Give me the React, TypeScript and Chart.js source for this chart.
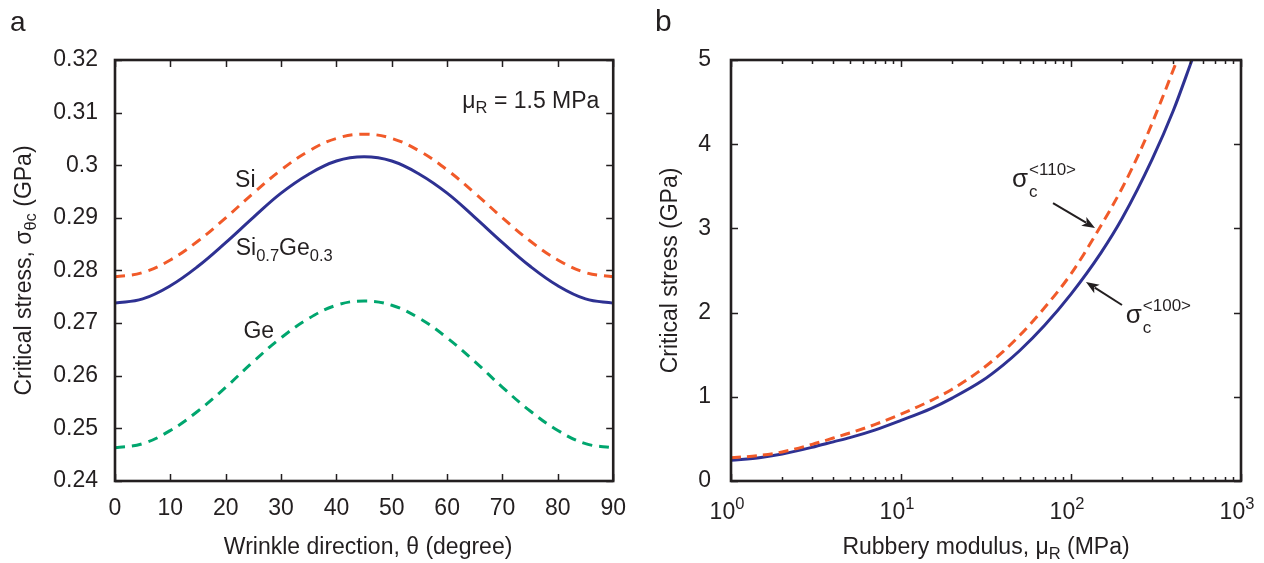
import React, { useEffect, useRef } from 'react';
import { Chart, registerables } from 'chart.js';

Chart.register(...registerables);

const FONT = '"Liberation Sans", Arial, Helvetica, sans-serif';
const TEXT = '#231f20';
const BLUE = '#2e3192';
const ORANGE = '#f15a29';
const GREEN = '#00a66e';

// Panel a: critical stress vs wrinkle direction (mu_R = 1.5 MPa)
const thetaDeg = [0, 5, 10, 15, 20, 25, 30, 35, 40, 45, 50, 55, 60, 65, 70, 75, 80, 85, 90];
const siStress = [0.2788, 0.2796, 0.2820, 0.2856, 0.2900, 0.2947, 0.2991, 0.3027, 0.3051, 0.3059, 0.3051, 0.3027, 0.2991, 0.2947, 0.2900, 0.2856, 0.2820, 0.2796, 0.2788];
const siGeStress = [0.2738, 0.2746, 0.2771, 0.2808, 0.2853, 0.2901, 0.2947, 0.2983, 0.3008, 0.3016, 0.3008, 0.2983, 0.2947, 0.2901, 0.2853, 0.2808, 0.2771, 0.2746, 0.2738];
const geStress = [0.2463, 0.2471, 0.2496, 0.2533, 0.2578, 0.2627, 0.2672, 0.2709, 0.2734, 0.2742, 0.2734, 0.2709, 0.2672, 0.2627, 0.2578, 0.2533, 0.2496, 0.2471, 0.2463];
const thetaTicks = [0, 10, 20, 30, 40, 50, 60, 70, 80, 90];
const stressTicksA = [0.24, 0.25, 0.26, 0.27, 0.28, 0.29, 0.3, 0.31, 0.32];

// Panel b: critical stress vs rubbery modulus
const modulus100 = [1, 1.5, 2, 3, 4, 5, 7, 10, 15, 20, 30, 40, 50, 70, 100, 150, 200, 300, 400, 515];
const sigma100 = [0.245, 0.28, 0.32, 0.40, 0.465, 0.515, 0.605, 0.72, 0.86, 0.985, 1.19, 1.38, 1.55, 1.85, 2.22, 2.71, 3.12, 3.82, 4.40, 5.0];
const modulus110 = [1, 1.5, 2, 3, 4, 5, 7, 10, 15, 20, 30, 40, 50, 70, 100, 140, 200, 262, 340, 421];
const sigma110 = [0.275, 0.305, 0.345, 0.435, 0.51, 0.57, 0.67, 0.795, 0.955, 1.09, 1.33, 1.54, 1.73, 2.06, 2.46, 2.93, 3.48, 3.97, 4.52, 5.0];
const modulusDecades = [1, 10, 100, 1000];
const decadeExponents = ['0', '1', '2', '3'];
const modulusMinor = [2, 3, 4, 5, 6, 7, 8, 9, 20, 30, 40, 50, 60, 70, 80, 90, 200, 300, 400, 500, 600, 700, 800, 900];
const stressTicksB = [0, 1, 2, 3, 4, 5];

const f = (size: number) => `${size}px ${FONT}`;
const FS = 23;
const SUB = 16.5;

type Run = { t: string; size: number; dy?: number };

function drawRich(ctx: CanvasRenderingContext2D, runs: Run[], x: number, y: number, align: 'left' | 'center' | 'right') {
  let w = 0;
  for (const r of runs) {
    ctx.font = f(r.size);
    w += ctx.measureText(r.t).width;
  }
  let cx = align === 'left' ? x : align === 'right' ? x - w : x - w / 2;
  ctx.textAlign = 'left';
  ctx.textBaseline = 'alphabetic';
  for (const r of runs) {
    ctx.font = f(r.size);
    ctx.fillText(r.t, cx, y + (r.dy || 0));
    cx += ctx.measureText(r.t).width;
  }
}

function drawSigma(ctx: CanvasRenderingContext2D, x: number, y: number, sub: string, sup: string) {
  ctx.textAlign = 'left';
  ctx.textBaseline = 'alphabetic';
  ctx.font = f(26);
  ctx.fillText('σ', x, y);
  const w = ctx.measureText('σ').width;
  ctx.font = f(17);
  ctx.fillText(sub, x + w + 1, y + 10);
  ctx.fillText(sup, x + w + 1, y - 12);
}

function drawArrow(ctx: CanvasRenderingContext2D, x1: number, y1: number, x2: number, y2: number) {
  const ang = Math.atan2(y2 - y1, x2 - x1);
  const hl = 13;
  const hw = 5;
  ctx.save();
  ctx.strokeStyle = TEXT;
  ctx.fillStyle = TEXT;
  ctx.lineWidth = 2;
  ctx.beginPath();
  ctx.moveTo(x1, y1);
  ctx.lineTo(x2 - Math.cos(ang) * hl * 0.8, y2 - Math.sin(ang) * hl * 0.8);
  ctx.stroke();
  ctx.beginPath();
  ctx.moveTo(x2, y2);
  ctx.lineTo(x2 - Math.cos(ang) * hl + Math.sin(ang) * hw, y2 - Math.sin(ang) * hl - Math.cos(ang) * hw);
  ctx.lineTo(x2 - Math.cos(ang) * hl * 0.75, y2 - Math.sin(ang) * hl * 0.75);
  ctx.lineTo(x2 - Math.cos(ang) * hl - Math.sin(ang) * hw, y2 - Math.sin(ang) * hl + Math.cos(ang) * hw);
  ctx.closePath();
  ctx.fill();
  ctx.restore();
}

type FrameCfg = { xMajor: number[]; xMinor: number[]; yMajor: number[] };

function makeFrame(cfg: FrameCfg) {
  return {
    id: 'frame',
    afterDatasetsDraw(chart: any) {
      const { ctx, chartArea: a, scales } = chart;
      const xs = scales.x;
      const ys = scales.y;
      ctx.save();
      ctx.strokeStyle = TEXT;
      ctx.lineWidth = 1.5;
      ctx.beginPath();
      for (const v of cfg.xMajor) {
        const px = Math.round(xs.getPixelForValue(v)) + 0.5;
        ctx.moveTo(px, a.bottom); ctx.lineTo(px, a.bottom - 7);
        ctx.moveTo(px, a.top); ctx.lineTo(px, a.top + 7);
      }
      for (const v of cfg.xMinor) {
        const px = Math.round(xs.getPixelForValue(v)) + 0.5;
        ctx.moveTo(px, a.bottom); ctx.lineTo(px, a.bottom - 4);
        ctx.moveTo(px, a.top); ctx.lineTo(px, a.top + 4);
      }
      for (const v of cfg.yMajor) {
        const py = Math.round(ys.getPixelForValue(v)) + 0.5;
        ctx.moveTo(a.left, py); ctx.lineTo(a.left + 7, py);
        ctx.moveTo(a.right, py); ctx.lineTo(a.right - 7, py);
      }
      ctx.stroke();
      ctx.lineWidth = 2.6;
      ctx.strokeRect(a.left, a.top, a.right - a.left, a.bottom - a.top);
      ctx.restore();
    },
  };
}

function makeNotes(draw: (chart: any) => void) {
  return {
    id: 'notes',
    afterDraw(chart: any) {
      const ctx = chart.ctx;
      ctx.save();
      ctx.fillStyle = TEXT;
      draw(chart);
      ctx.restore();
    },
  };
}

const tickFont = { family: FONT, size: FS };

export default function App() {
  const refA = useRef<HTMLCanvasElement>(null);
  const refB = useRef<HTMLCanvasElement>(null);

  useEffect(() => {
    const chartA = new Chart(refA.current!, {
      type: 'line',
      data: {
        datasets: [
          { data: thetaDeg.map((t, i) => ({ x: t, y: siStress[i] })), borderColor: ORANGE, borderDash: [10, 7], borderWidth: 3, pointRadius: 0, tension: 0.4, fill: false },
          { data: thetaDeg.map((t, i) => ({ x: t, y: siGeStress[i] })), borderColor: BLUE, borderWidth: 3, pointRadius: 0, tension: 0.4, fill: false },
          { data: thetaDeg.map((t, i) => ({ x: t, y: geStress[i] })), borderColor: GREEN, borderDash: [10, 7], borderWidth: 3, pointRadius: 0, tension: 0.4, fill: false },
        ],
      } as any,
      options: {
        animation: false,
        responsive: false,
        events: [],
        layout: { padding: { top: 60, right: 14, left: 0, bottom: 0 } },
        plugins: { legend: { display: false }, tooltip: { enabled: false } },
        scales: {
          x: {
            type: 'linear', min: 0, max: 90,
            afterBuildTicks: (s: any) => { s.ticks = thetaTicks.map((v) => ({ value: v })); },
            ticks: { font: tickFont, color: TEXT, padding: 14, maxRotation: 0, autoSkip: false },
            grid: { display: false, drawTicks: false },
            border: { display: false },
            afterFit: (s: any) => { s.height = 82; },
          },
          y: {
            type: 'linear', min: 0.24, max: 0.32,
            afterBuildTicks: (s: any) => { s.ticks = stressTicksA.map((v) => ({ value: v })); },
            ticks: { font: tickFont, color: TEXT, padding: 17, autoSkip: false, callback: (v: any) => String(Number(Number(v).toFixed(2))) },
            grid: { display: false, drawTicks: false },
            border: { display: false },
            afterFit: (s: any) => { s.width = 115; },
          },
        },
      } as any,
      plugins: [
        makeFrame({ xMajor: thetaTicks, xMinor: [], yMajor: stressTicksA }),
        makeNotes((chart) => {
          const { ctx, scales: { x, y } } = chart;
          ctx.font = f(28);
          ctx.textAlign = 'left';
          ctx.textBaseline = 'alphabetic';
          ctx.fillText('a', 10, 31);
          drawRich(ctx, [{ t: 'μ', size: FS }, { t: 'R', size: SUB, dy: 5 }, { t: ' = 1.5 MPa', size: FS }], x.getPixelForValue(87.5), y.getPixelForValue(0.3109), 'right');
          drawRich(ctx, [{ t: 'Si', size: FS }], x.getPixelForValue(21.7), y.getPixelForValue(0.2959), 'left');
          drawRich(ctx, [{ t: 'Si', size: FS }, { t: '0.7', size: SUB, dy: 6 }, { t: 'Ge', size: FS }, { t: '0.3', size: SUB, dy: 6 }], x.getPixelForValue(21.8), y.getPixelForValue(0.2829), 'left');
          drawRich(ctx, [{ t: 'Ge', size: FS }], x.getPixelForValue(23.2), y.getPixelForValue(0.2672), 'left');
          // axis titles
          drawRich(ctx, [{ t: 'Wrinkle direction, θ (degree)', size: FS }], (chart.chartArea.left + chart.chartArea.right) / 2 + 4, 554, 'center');
          ctx.save();
          ctx.translate(31, (chart.chartArea.top + chart.chartArea.bottom) / 2);
          ctx.rotate(-Math.PI / 2);
          drawRich(ctx, [{ t: 'Critical stress, σ', size: FS }, { t: 'θc', size: SUB, dy: 5 }, { t: ' (GPa)', size: FS }], 0, 0, 'center');
          ctx.restore();
        }),
      ],
    });

    const chartB = new Chart(refB.current!, {
      type: 'line',
      data: {
        datasets: [
          { data: modulus110.map((m, i) => ({ x: m, y: sigma110[i] })), borderColor: ORANGE, borderDash: [10, 6], borderWidth: 3, pointRadius: 0, cubicInterpolationMode: 'monotone', fill: false },
          { data: modulus100.map((m, i) => ({ x: m, y: sigma100[i] })), borderColor: BLUE, borderWidth: 3, pointRadius: 0, cubicInterpolationMode: 'monotone', fill: false },
        ],
      } as any,
      options: {
        animation: false,
        responsive: false,
        events: [],
        layout: { padding: { top: 60, right: 23, left: 0, bottom: 0 } },
        plugins: { legend: { display: false }, tooltip: { enabled: false } },
        scales: {
          x: {
            type: 'logarithmic', min: 1, max: 1000,
            ticks: { display: false },
            grid: { display: false, drawTicks: false },
            border: { display: false },
            afterFit: (s: any) => { s.height = 82; },
          },
          y: {
            type: 'linear', min: 0, max: 5,
            afterBuildTicks: (s: any) => { s.ticks = stressTicksB.map((v) => ({ value: v })); },
            ticks: { font: tickFont, color: TEXT, padding: 20, autoSkip: false },
            grid: { display: false, drawTicks: false },
            border: { display: false },
            afterFit: (s: any) => { s.width = 91; },
          },
        },
      } as any,
      plugins: [
        makeFrame({ xMajor: modulusDecades, xMinor: modulusMinor, yMajor: stressTicksB }),
        makeNotes((chart) => {
          const { ctx, scales: { x, y }, chartArea: a } = chart;
          ctx.font = f(30);
          ctx.textAlign = 'left';
          ctx.textBaseline = 'alphabetic';
          ctx.fillText('b', 15, 31);
          // decade labels
          modulusDecades.forEach((m, i) => {
            drawRich(ctx, [{ t: '10', size: FS }, { t: decadeExponents[i], size: SUB, dy: -10 }], x.getPixelForValue(m) - 4, a.bottom + 38, 'center');
          });
          // annotations
          drawSigma(ctx, x.getPixelForValue(45), y.getPixelForValue(3.49), 'c', '<110>');
          drawArrow(ctx, x.getPixelForValue(78.4), y.getPixelForValue(3.30), x.getPixelForValue(138.4), y.getPixelForValue(3.005));
          drawArrow(ctx, x.getPixelForValue(199.5), y.getPixelForValue(2.09), x.getPixelForValue(122.5), y.getPixelForValue(2.363));
          drawSigma(ctx, x.getPixelForValue(210), y.getPixelForValue(1.876), 'c', '<100>');
          // axis titles
          drawRich(ctx, [{ t: 'Rubbery modulus, μ', size: FS }, { t: 'R', size: SUB, dy: 5 }, { t: ' (MPa)', size: FS }], (a.left + a.right) / 2, 554, 'center');
          ctx.save();
          ctx.translate(37, (a.top + a.bottom) / 2);
          ctx.rotate(-Math.PI / 2);
          drawRich(ctx, [{ t: 'Critical stress (GPa)', size: FS }], 0, 0, 'center');
          ctx.restore();
        }),
      ],
    });

    return () => {
      chartA.destroy();
      chartB.destroy();
    };
  }, []);

  return (
    <div style={{ position: 'absolute', left: 0, top: 0, width: 1264, height: 563, background: '#fff', overflow: 'hidden' }}>
      <canvas ref={refA} width={640} height={563} style={{ position: 'absolute', left: 0, top: 0, width: 640, height: 563 }} />
      <canvas ref={refB} width={624} height={563} style={{ position: 'absolute', left: 640, top: 0, width: 624, height: 563 }} />
    </div>
  );
}
